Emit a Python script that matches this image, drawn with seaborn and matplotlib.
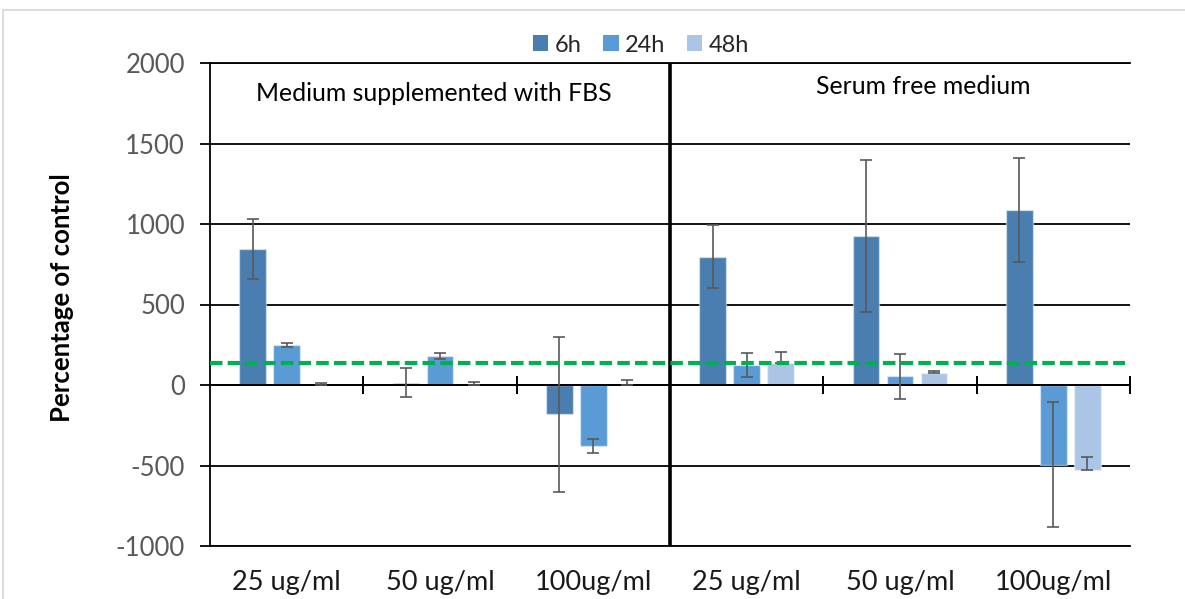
import matplotlib
matplotlib.use("Agg")
import matplotlib.pyplot as plt
import seaborn as sns
import pandas as pd
from matplotlib.patches import Rectangle, Patch

# Treatment conditions
panels = ["Medium supplemented with FBS", "Serum free medium"]
doses = ["25 ug/ml", "50 ug/ml", "100ug/ml"]
times = ["6h", "24h", "48h"]

# Mean response (% of control) per dose, FBS panel first then serum free
mean_6h = [843, 15, -182, 797, 925, 1086]
mean_24h = [248, 180, -380, 124, 54, -494]
mean_48h = [3, 3, 3, 138, 77, -530]

# Error bars: 6h and 24h are symmetric, 48h shows the plus direction only
err_6h = [187, 90, 482, 197, 472, 322]
err_24h = [12, 20, 45, 72, 139, 390]
err_48h = [11, 17, 28, 68, 12, 85]

control_level = 138

y_ticks = [-1000, -500, 0, 500, 1000, 1500, 2000]

colors = ["#4a7eb1", "#5b9bd5", "#abc5e7"]

# Long-form table
keys = [f"{p}|{d}" for p in panels for d in doses]
rows = []
for t, means in zip(times, [mean_6h, mean_24h, mean_48h]):
    for k, m in zip(keys, means):
        rows.append({"group": k, "time": t, "value": m})
df = pd.DataFrame(rows)

sns.set_theme(style="white")
plt.rcParams["font.family"] = ["Lato", "DejaVu Sans"]

fig = plt.figure(figsize=(11.85, 5.99), dpi=100)
ax = fig.add_axes([210 / 1185, 1 - 546 / 599, 920 / 1185, 483 / 599])

sns.barplot(data=df, x="group", y="value", hue="time", order=keys,
            hue_order=times, palette=colors, saturation=1, width=0.666,
            gap=0.21, errorbar=None, edgecolor=(1, 1, 1, 0.45), linewidth=1.0,
            legend=False, ax=ax, zorder=2)

# Error bars at the bar centres
errs = [(err_6h, err_6h), (err_24h, err_24h), ([0] * 6, err_48h)]
for cont, means, (lo, hi) in zip(ax.containers, [mean_6h, mean_24h, mean_48h], errs):
    xs = [p.get_x() + p.get_width() / 2 for p in cont.patches]
    ax.errorbar(xs, means, yerr=[lo, hi], fmt="none", ecolor="#595959",
                elinewidth=1.2, capsize=4.2, capthick=1.2, zorder=4)

ax.set_xlim(-0.5, 5.5)
ax.set_ylim(-1000, 2000)
ax.set_yticks(y_ticks)
ax.set_yticklabels([str(v) for v in y_ticks])
ax.yaxis.grid(True, color="black", lw=1.3)
ax.set_axisbelow(True)

for side in ["left", "top", "bottom"]:
    ax.spines[side].set_visible(True)
    ax.spines[side].set_color("black")
    ax.spines[side].set_linewidth(1.3)
ax.spines["right"].set_visible(False)

# Zero axis with category boundary ticks
ax.axhline(0, color="black", lw=1.4, zorder=3)
ax.vlines([0.5, 1.5, 3.5, 4.5, 5.5], -56, 56, color="black", lw=1.4,
          zorder=3, clip_on=False)
ax.axvline(2.5, color="black", lw=2.6, zorder=3)

# Control reference line
ax.axhline(control_level, xmin=0, xmax=0.995, color="#00B050", lw=3,
           ls=(0, (3, 1.25)), zorder=5)

ax.tick_params(axis="y", length=7, width=1.3, color="black", direction="out",
               pad=11, labelsize=18.5, labelcolor="#595959", left=True)
ax.set_xticks(range(6))
ax.set_xticklabels(doses * 2)
ax.tick_params(axis="x", length=0, pad=17, labelsize=19.5, labelcolor="#1a1a1a")
ax.set_xlabel("")
ax.set_ylabel("Percentage of control", fontsize=18.5, fontweight="bold",
              color="black")
ax.yaxis.set_label_coords(-0.148, 0.515)

ax.text(0.96, 1813, panels[0], fontsize=17.8, ha="center", va="center",
        color="black")
ax.text(4.15, 1851, panels[1], fontsize=17.8, ha="center", va="center",
        color="black")

handles = [Patch(facecolor=c, edgecolor="none") for c in colors]
fig.legend(handles, times, loc="center", bbox_to_anchor=(641 / 1185, 1 - 45 / 599),
           ncol=3, frameon=False, fontsize=17, handlelength=0.66,
           handleheight=0.66, handletextpad=0.28, columnspacing=0.9)

# Chart area border
fig.patches.append(Rectangle((3 / 1185, -0.1), 1.2, (1 - 10 / 599) + 0.1,
                             transform=fig.transFigure, fill=False,
                             ec="#d9d9d9", lw=1.3))

fig.savefig("out.png", dpi=100)
